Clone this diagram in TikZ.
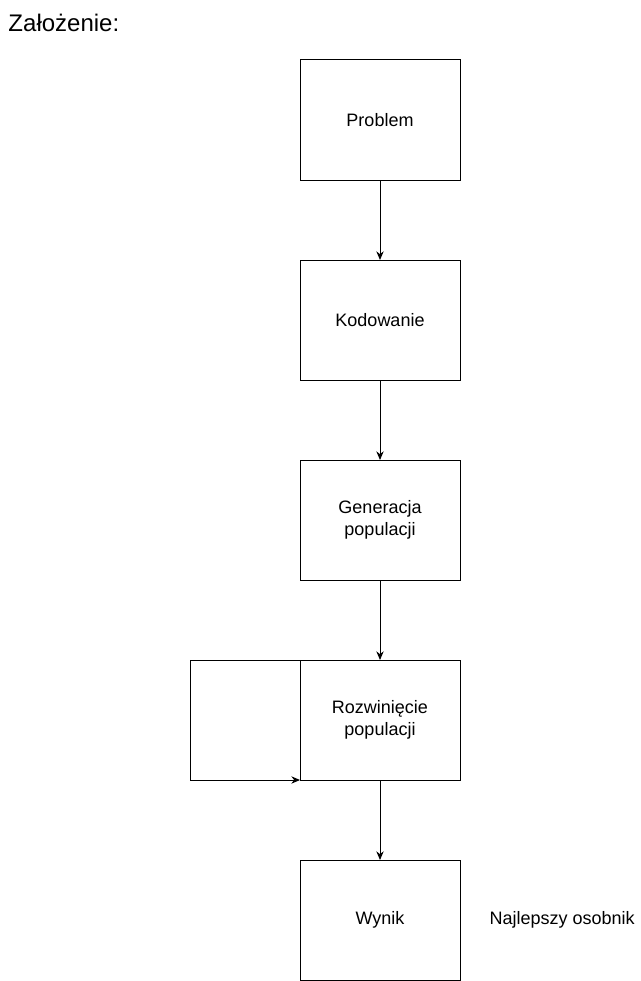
\documentclass[tikz,border=0pt]{standalone}
\usepackage{fontspec}
\setmainfont{Liberation Sans}
\usetikzlibrary{positioning, arrows.meta}

\begin{document}
\begin{tikzpicture}[x=0.75pt, y=-0.75pt, font=\fontsize{13.5}{16.5}\selectfont, node distance=60pt, line width=0.75pt]
  \tikzset{
    stepbox/.style={draw, minimum width=120pt, minimum height=90pt, align=center, inner sep=0pt, outer sep=0pt},
    flow/.style={-{Stealth[length=6.5pt, width=5.5pt]}},
  }
  \useasboundingbox (0,0) rectangle (641,981);

  \node[anchor=west, inner sep=0pt, font=\fontsize{18}{22}\selectfont] (title) at (8,23) {Założenie:};

  \node[stepbox] (problem) at (380,120) {Problem};
  \node[stepbox, below=of problem] (kodowanie) {Kodowanie};
  \node[stepbox, below=of kodowanie] (generacja) {Generacja\\populacji};
  \node[stepbox, below=of generacja] (rozwiniecie) {Rozwinięcie\\populacji};
  \node[stepbox, below=of rozwiniecie] (wynik) {Wynik};
  \node[right=21.75pt of wynik, inner sep=0pt] (osobnik) {Najlepszy osobnik};

  \draw[flow] (problem) -- (kodowanie);
  \draw[flow] (kodowanie) -- (generacja);
  \draw[flow] (generacja) -- (rozwiniecie);
  \draw[flow] (rozwiniecie) -- (wynik);
  % petla rozwiniecia
  \draw[flow] (rozwiniecie.north west) -- ++(-110,0) |- (rozwiniecie.south west);
\end{tikzpicture}
\end{document}
